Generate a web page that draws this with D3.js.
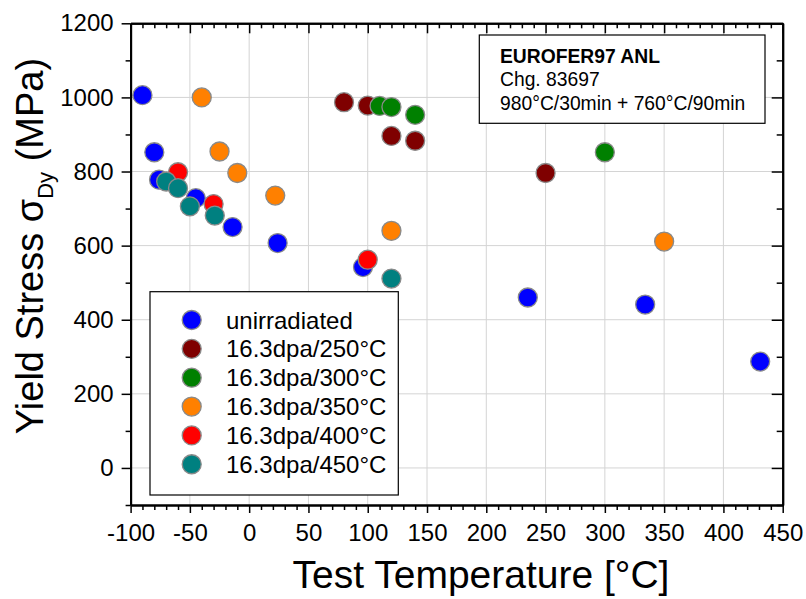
<!DOCTYPE html>
<html>
<head>
  <title>Yield Stress vs Test Temperature</title>
  <style>
    body { margin: 0; background: #fff; }
    svg { display: block; font-family: "Liberation Sans", Arial, sans-serif; }
    .axis .domain { stroke: #000; stroke-width: 2; }
    .axis line { stroke: #000; stroke-width: 1.5; }
    .axis text { font-size: 24px; fill: #000; font-family: "Liberation Sans", Arial, sans-serif; }
    .grid line { stroke: #d4d4d4; stroke-width: 1; }
  </style>
</head>
<body>
<svg width="806" height="599"></svg>
<script src="https://d3js.org/d3.v7.min.js"></script>
<script>

  // series, in drawing order (later ones sit on top)
  var seriesNames = ['unirradiated', '16.3dpa/250°C', '16.3dpa/300°C', '16.3dpa/350°C', '16.3dpa/400°C', '16.3dpa/450°C']
  var seriesColors = ['#0000ff', '#7f0000', '#008000', '#ff8000', '#ff0000', '#008080']

  var unirrT = [-90, -80, -76, -45, -14, 24, 96, 235, 334, 431]
  var unirrS = [1006, 852, 778, 728, 650, 607, 542, 460, 441, 287]

  var dpa250T = [80, 100, 120, 140, 250]
  var dpa250S = [987, 978, 896, 883, 796]

  var dpa300T = [110, 120, 140, 300]
  var dpa300S = [977, 974, 953, 852]

  var dpa350T = [-40, -25, -10, 22, 120, 350]
  var dpa350S = [1000, 854, 796, 735, 640, 611]

  var dpa400T = [-60, -30, 100]
  var dpa400S = [798, 712, 562]

  var dpa450T = [-70, -60, -50, -29, 120]
  var dpa450S = [773, 755, 706, 681, 511]

  var temps = [unirrT, dpa250T, dpa300T, dpa350T, dpa400T, dpa450T]
  var stresses = [unirrS, dpa250S, dpa300S, dpa350S, dpa400S, dpa450S]

  var xTicks = [-100, -50, 0, 50, 100, 150, 200, 250, 300, 350, 400, 450]
  var yTicks = [0, 200, 400, 600, 800, 1000, 1200]
  var noteLines = ['EUROFER97 ANL', 'Chg. 83697', '980°C/30min + 760°C/90min']

  var svg = d3.select('svg'),
    margin = {top: 23.3, right: 23.3, bottom: 94, left: 130.6},
    width = +svg.attr('width') - margin.left - margin.right,
    height = +svg.attr('height') - margin.top - margin.bottom,
    g = svg.append('g').attr('transform', 'translate(' + margin.left + ',' + margin.top + ')')

  var x = d3.scaleLinear().domain([-100, 450]).range([0, width])
  var y = d3.scaleLinear().domain([-100, 1200]).range([height, 0])

  var xMinor = d3.range(-100, 451, 10).filter(function (d) { return d % 50 !== 0 })
  var yMinor = d3.range(-100, 1201, 100).filter(function (d) { return d % 200 !== 0 })

  function plain(d) { return String(d) }

  // grid
  g.append('g').attr('class', 'grid')
    .selectAll('line').data(xTicks.slice(1, -1)).enter().append('line')
    .attr('x1', function (d) { return x(d) }).attr('x2', function (d) { return x(d) })
    .attr('y1', 0).attr('y2', height)
  g.append('g').attr('class', 'grid')
    .selectAll('line').data(yTicks.slice(0, -1)).enter().append('line')
    .attr('y1', function (d) { return y(d) }).attr('y2', function (d) { return y(d) })
    .attr('x1', 0).attr('x2', width)

  // points
  seriesNames.forEach(function (name, i) {
    var pts = temps[i].map(function (t, j) { return {t: t, s: stresses[i][j]} })
    g.append('g').selectAll('circle').data(pts).enter().append('circle')
      .attr('cx', function (d) { return x(d.t) })
      .attr('cy', function (d) { return y(d.s) })
      .attr('r', 9.5)
      .attr('fill', seriesColors[i])
      .attr('stroke', '#8a8a8a')
      .attr('stroke-width', 1.3)
  })

  // axes: bottom and left outward with labels, top and right inward
  g.append('g').attr('class', 'axis').attr('transform', 'translate(0,' + height + ')')
    .call(d3.axisBottom(x).tickValues(xMinor).tickSize(5).tickSizeOuter(0).tickFormat(''))
  g.append('g').attr('class', 'axis').attr('transform', 'translate(0,' + height + ')')
    .call(d3.axisBottom(x).tickValues(xTicks).tickSize(8).tickSizeOuter(0).tickPadding(11).tickFormat(plain))

  g.append('g').attr('class', 'axis')
    .call(d3.axisLeft(y).tickValues(yMinor).tickSize(5).tickSizeOuter(0).tickFormat(''))
  g.append('g').attr('class', 'axis')
    .call(d3.axisLeft(y).tickValues(yTicks).tickSize(9).tickSizeOuter(0).tickPadding(8).tickFormat(plain))

  g.append('g').attr('class', 'axis')
    .call(d3.axisTop(x).tickValues(xMinor).tickSize(-5).tickSizeOuter(0).tickFormat(''))
  g.append('g').attr('class', 'axis')
    .call(d3.axisTop(x).tickValues(xTicks).tickSize(-10).tickSizeOuter(0).tickFormat(''))

  g.append('g').attr('class', 'axis').attr('transform', 'translate(' + width + ',0)')
    .call(d3.axisRight(y).tickValues(yMinor).tickSize(-6).tickSizeOuter(0).tickFormat(''))
  g.append('g').attr('class', 'axis').attr('transform', 'translate(' + width + ',0)')
    .call(d3.axisRight(y).tickValues(yTicks).tickSize(-11).tickSizeOuter(0).tickFormat(''))

  // axis titles
  svg.append('text')
    .attr('x', 481).attr('y', 588)
    .attr('text-anchor', 'middle')
    .style('font-size', '39px')
    .text('Test Temperature [°C]')

  var yt = svg.append('text')
    .attr('transform', 'translate(43,246) rotate(-90)')
    .attr('text-anchor', 'middle')
    .style('font-size', '38px')
  yt.append('tspan').text('Yield Stress σ')
  yt.append('tspan').attr('dy', 10).style('font-size', '22px').text('Dy')
  yt.append('tspan').attr('dy', -10).text(' (MPa)')

  // legend
  var legend = svg.append('g')
  legend.append('rect')
    .attr('x', 150).attr('y', 291.7).attr('width', 248.3).attr('height', 203.3)
    .attr('fill', '#fff').attr('stroke', '#000').attr('stroke-width', 1.2)
  seriesNames.forEach(function (name, i) {
    var cy = 320 + i * 28.85
    legend.append('circle')
      .attr('cx', 191.7).attr('cy', cy).attr('r', 9.5)
      .attr('fill', seriesColors[i]).attr('stroke', '#8a8a8a').attr('stroke-width', 1.3)
    legend.append('text')
      .attr('x', 226).attr('y', cy).attr('dy', '0.36em')
      .style('font-size', '24px')
      .text(name)
  })

  // note box
  var note = svg.append('g')
  note.append('rect')
    .attr('x', 479.3).attr('y', 35).attr('width', 285.7).attr('height', 88.3)
    .attr('fill', '#fff').attr('stroke', '#000').attr('stroke-width', 1.2)
  noteLines.forEach(function (line, i) {
    note.append('text')
      .attr('x', 500).attr('y', 62.7 + i * 23.7)
      .style('font-size', '19.3px')
      .style('font-weight', i === 0 ? 'bold' : 'normal')
      .text(line)
  })

</script>
</body>
</html>
